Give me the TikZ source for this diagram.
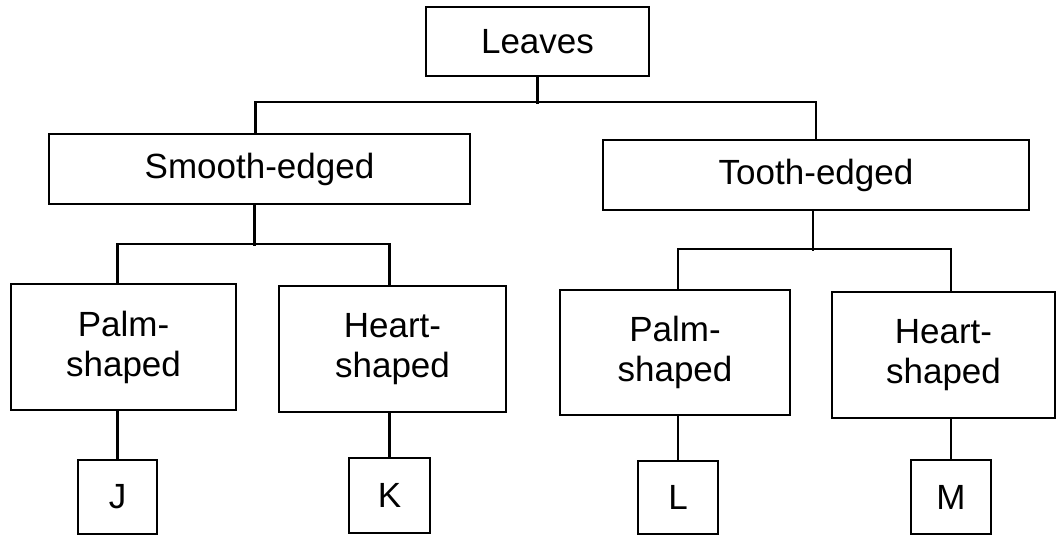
\documentclass[tikz,border=0pt]{standalone}
\usepackage{fontspec}
\setmainfont{Liberation Sans}
\begin{document}
\begin{tikzpicture}[x=1pt,y=-1pt,
  box/.style={draw,line width=2.2pt,inner sep=0pt,align=center,
    font=\fontsize{35}{40}\selectfont},
  link/.style={line width=2.2pt}]
\useasboundingbox (0,0) rectangle (1062,536);
\node[box,minimum width=223,minimum height=69] (leaves) at (537.5,41.5) {Leaves};
\node[box,minimum width=421,minimum height=70] (smooth) at (259.5,169) {Smooth-edged};
\node[box,minimum width=426,minimum height=70] (tooth) at (816,175) {Tooth-edged};
\node[box,minimum width=225,minimum height=126] (palm1) at (123.5,347) {Palm-\\shaped};
\node[box,minimum width=227,minimum height=126] (heart1) at (392.5,349) {Heart-\\shaped};
\node[box,minimum width=230,minimum height=125] (palm2) at (675,352.5) {Palm-\\shaped};
\node[box,minimum width=223,minimum height=126] (heart2) at (943.5,355) {Heart-\\shaped};
\node[box,minimum width=79,minimum height=74] (J) at (117.5,497) {J};
\node[box,minimum width=81,minimum height=75] (K) at (389.5,495.5) {K};
\node[box,minimum width=80,minimum height=73] (L) at (678,497.5) {L};
\node[box,minimum width=80,minimum height=74] (M) at (951,497) {M};
% level 1
\draw[link] (leaves.south) -- ++(0,27);
\draw[link] ([xshift=-4]smooth.north) -- ++(0,-31) -| (tooth.north);
% level 2 left
\draw[link] ([xshift=-5]smooth.south) -- ++(0,41);
\draw[link] (J.north |- palm1.north) -- ++(0,-39) -| (K.north |- heart1.north);
% level 2 right
\draw[link] ([xshift=-3]tooth.south) -- ++(0,40);
\draw[link] (L.north |- palm2.north) -- ++(0,-40) -| (M.north |- heart2.north);
% leaves
\draw[link] (J.north) -- (J.north |- palm1.south);
\draw[link] (K.north) -- (K.north |- heart1.south);
\draw[link] (L.north) -- (L.north |- palm2.south);
\draw[link] (M.north) -- (M.north |- heart2.south);
\end{tikzpicture}
\end{document}
